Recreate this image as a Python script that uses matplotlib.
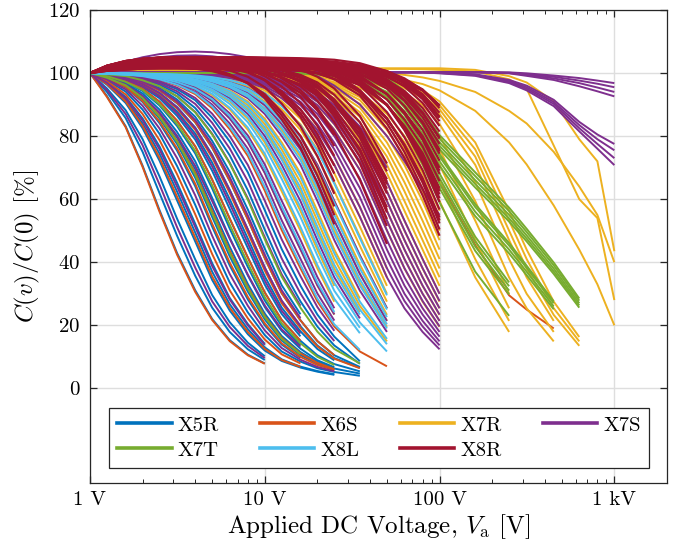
import matplotlib
matplotlib.use("Agg")
import matplotlib.pyplot as plt
from matplotlib.ticker import FixedLocator, LogLocator, NullFormatter

plt.rcParams.update({
    "font.family": "serif",
    "font.serif": ["cmr10"],
    "mathtext.fontset": "cm",
    "axes.formatter.use_mathtext": True,
    "axes.unicode_minus": False,
})

# applied DC bias steps [V]; each curve runs from 1 V up to its rated voltage
VOLTS = [1, 1.25, 1.6, 2, 2.5, 3.15, 4, 5, 6.3, 8, 10, 12.5, 16, 20, 25, 35,
         50, 63, 80, 100, 160, 250, 315, 450, 630, 800, 1000]

X5R = [
    [100, 92.7, 83.1, 70.6, 56.5, 42.9, 31.1, 22.0, 15.3, 10.7, 7.9],
    [100, 94.0, 85.7, 75.0, 61.9, 48.4, 35.7, 25.6, 17.9, 12.4, 9.0],
    [100, 95.1, 88.2, 79.0, 67.2, 53.8, 40.9, 29.6, 21.0, 14.5, 10.2],
    [100, 96.3, 90.5, 82.5, 72.2, 59.6, 46.6, 34.4, 24.7, 17.2, 12.0, 8.7, 6.6, 5.3, 4.3],
    [100, 97.1, 92.4, 85.6, 76.7, 65.2, 52.2, 39.7, 28.7, 20.4, 14.1],
    [100, 97.7, 94.1, 88.4, 80.7, 70.5, 58.2, 45.5, 33.6, 24.1, 16.9, 11.7, 8.5, 6.4, 5.2, 4.0],
    [100, 98.3, 95.4, 90.8, 84.1, 75.4, 64.1, 51.3, 39.0, 28.2, 20.0, 13.9, 9.7],
    [100, 98.9, 97.1, 94.3, 89.7, 83.2, 74.5, 63.4, 50.7, 38.5, 27.9, 19.8, 13.7],
    [100, 99.2, 97.8, 95.5, 92.0, 86.4, 78.9, 69.0, 56.9, 44.5, 32.9, 23.6, 16.5],
    [100, 99.6, 98.8, 97.4, 95.2, 91.6, 86.1, 78.5, 68.7, 56.7, 44.3, 32.7, 23.5],
    [100, 96.6, 91.4, 84.0, 74.4, 62.4, 49.4, 37.0, 26.7, 18.8, 13.0, 9.2, 6.9, 5.5, 4.5],
    [100, 98.4, 95.9, 91.8, 85.6, 77.5, 66.8, 54.4, 41.9, 30.7, 21.9, 15.2, 10.6, 7.8, 6.0],
    [100, 98.7, 96.7, 93.5, 88.4, 81.3, 72.0, 60.4, 47.8, 35.8, 25.8, 18.2, 12.6, 8.9, 6.7],
    [100, 99.3, 98.0, 96.1, 92.9, 87.8, 80.8, 71.6, 60.0, 47.5, 35.5, 25.6, 18.1, 12.5, 8.9],
    [100, 98.6, 96.3, 92.8, 87.2, 79.5, 69.5, 57.4, 44.9, 33.1, 23.7, 16.6, 11.5, 8.4, 6.3, 4.7],
    [100, 99.4, 98.3, 96.6, 93.7, 89.2, 82.7, 74.1, 63.0, 50.4, 38.3, 27.7, 19.7, 13.6, 9.6, 6.5],
    [100, 99.7, 99.1, 98.0, 96.3, 93.5, 88.9, 82.4, 73.9, 62.8, 50.3, 38.2, 27.6, 19.6, 13.6, 7.8],
    [100, 99.7, 99.3, 98.5, 97.1, 94.9, 91.4, 85.8, 78.3, 68.5, 56.5, 44.2, 32.6, 23.4, 16.4, 8.6],
    [100, 99.5, 98.5, 97.0, 94.5, 90.4, 84.4, 76.3, 65.8, 53.6, 41.3, 30.2, 21.6, 15.0, 10.5, 6.8],
    [100, 99.0, 97.5, 94.9, 90.9, 84.8, 76.7, 66.2, 53.8, 41.5, 30.4, 21.7, 15.1, 10.5, 7.7, 5.4],
]

X6S = [
    [100, 92.4, 82.8, 70.2, 56.0, 42.4, 30.6, 21.7, 15.0, 10.5, 7.8],
    [100, 96.5, 91.0, 83.2, 73.1, 60.8, 47.8, 35.5, 25.6, 17.9, 12.5, 9.0, 6.8],
    [100, 97.4, 93.2, 87.0, 78.7, 67.9, 55.2, 42.6, 31.1, 22.2, 15.5, 10.8, 7.9],
    [100, 98.4, 95.6, 91.1, 84.6, 76.1, 64.9, 52.2, 39.9, 29.0, 20.6, 14.3, 10.0, 7.4, 5.8],
    [100, 98.5, 96.0, 92.3, 86.4, 78.5, 68.4, 56.2, 43.7, 32.1, 22.9, 16.0, 11.1, 8.1, 6.1],
    [100, 99.0, 97.5, 95.0, 90.9, 84.9, 76.8, 66.2, 53.9, 41.5, 30.4, 21.7, 15.1],
    [100, 99.35, 98.2, 96.4, 93.4, 88.7, 82.0, 73.2, 62.0, 49.4, 37.4, 27.0, 19.2, 13.3, 9.4, 6.4],
    [100, 99.5, 98.5, 97.0, 94.5, 90.5, 84.4, 76.4, 65.9, 53.6, 41.3, 30.2, 21.6, 15.0, 10.5],
    [100, 99.8, 99.5, 98.9, 97.8, 96.1, 93.3, 88.8, 82.2, 73.7, 62.7, 50.2, 38.1, 27.6, 19.6, 11.7, 7.0],
    [100, 100, 100, 100, 100, 100, 100, 100, 100, 100, 100, 100, 100, 99.9, 99.8,
     97.5, 92.0, 85.0, 75.5, 65.5, 45.5, 29.5, 25.0, 19.0],
]

X7R = [
    [100, 99.8, 99.5, 99.1, 98.3, 96.9, 94.7, 91.2, 85.7, 78.2, 68.4, 56.4, 44.1, 32.6, 23.4],
    [100, 99.7, 99.5, 99.2, 98.6, 97.5, 95.8, 93.0, 88.5, 82.0, 73.5, 62.5, 50.0, 38.0, 27.5],
    [100, 99.8, 99.6, 99.3, 98.9, 98.1, 96.7, 94.5, 91.0, 85.5, 78.0, 68.2, 56.3, 44.0, 32.5],
    [100, 99.8, 99.7, 99.5, 99.2, 98.6, 97.5, 95.8, 93.0, 88.5, 82.0, 73.5, 62.5, 50.0, 38.0, 24.2],
    [100, 100, 99.8, 99.6, 99.3, 98.9, 98.1, 96.7, 94.5, 91.0, 85.5, 78.0, 68.2, 56.3, 44.0, 28.5],
    [100, 99.9, 99.8, 99.6, 99.3, 98.8, 97.8, 96.3, 93.8, 89.8, 83.8, 75.8, 65.4, 53.2, 41.0, 26.2, 14.9],
    [100, 100, 99.8, 99.7, 99.5, 99.2, 98.6, 97.5, 95.8, 93.0, 88.5, 82.0, 73.5, 62.5, 50.0, 33.5, 19.5],
    [100, 100, 99.85, 99.75, 99.55, 99.25, 98.75, 97.8, 96.25, 93.75, 89.75, 83.75, 75.75, 65.35, 53.15, 36.35, 21.4],
    [100, 100, 99.9, 99.8, 99.6, 99.3, 98.9, 98.1, 96.7, 94.5, 91.0, 85.5, 78.0, 68.2, 56.3, 39.2, 23.3],
    [100, 100, 99.95, 99.8, 99.65, 99.4, 99.05, 98.35, 97.1, 95.15, 92.0, 87.0, 80.0, 70.85, 59.4, 42.2, 25.4],
    [100, 100, 100, 99.8, 99.7, 99.5, 99.2, 98.6, 97.5, 95.8, 93.0, 88.5, 82.0, 73.5, 62.5, 45.2, 27.5],
    [100, 100, 100, 99.85, 99.75, 99.55, 99.25, 98.75, 97.8, 96.25, 93.75, 89.75, 83.75, 75.75, 65.35, 48.25, 30.0],
    [100, 100, 100, 99.9, 99.8, 99.6, 99.3, 98.9, 98.1, 96.7, 94.5, 91.0, 85.5, 78.0, 68.2, 51.3, 32.5],
    [100, 100, 100, 99.95, 99.8, 99.65, 99.4, 99.05, 98.35, 97.1, 95.15, 92.0, 87.0, 80.0, 70.85, 54.45, 35.25],
    [100, 100, 100, 100, 99.8, 99.7, 99.5, 99.2, 98.6, 97.5, 95.8, 93.0, 88.5, 82.0, 73.5, 57.6, 38.0],
    [100, 100, 100, 100, 100, 99.8, 99.7, 99.5, 99.2, 98.6, 97.5, 95.8, 93.0, 88.5, 82.0,
     69.3, 50.0, 38.0, 27.5, 19.5],
    [100, 100, 100, 100, 100, 99.85, 99.75, 99.55, 99.25, 98.75, 97.8, 96.25, 93.75, 89.75, 83.75,
     71.9, 53.2, 41.0, 30.0, 21.4],
    [100, 100, 100, 100, 100, 99.9, 99.8, 99.6, 99.3, 98.9, 98.1, 96.7, 94.5, 91.0, 85.5,
     74.4, 56.3, 44.0, 32.5, 23.3],
    [100, 100, 100, 100, 100, 99.95, 99.8, 99.65, 99.4, 99.05, 98.35, 97.1, 95.15, 92.0, 87.0,
     76.6, 59.4, 47.0, 35.25, 25.4],
    [100, 100, 100, 100, 100, 100, 99.8, 99.7, 99.5, 99.2, 98.6, 97.5, 95.8, 93.0, 88.5,
     78.8, 62.5, 50.0, 38.0, 27.5],
    [100, 100, 100, 100, 100, 100, 99.85, 99.75, 99.55, 99.25, 98.75, 97.8, 96.25, 93.75, 89.75,
     80.75, 65.35, 53.15, 41.0, 30.0],
    [100, 100, 100, 100, 100, 100, 99.9, 99.8, 99.6, 99.3, 98.9, 98.1, 96.7, 94.5, 91.0,
     82.7, 68.2, 56.3, 44.0, 32.5],
    [100, 100, 100, 100, 100, 100, 99.95, 99.8, 99.65, 99.4, 99.05, 98.35, 97.1, 95.15, 92.0,
     84.4, 70.85, 59.4, 47.0, 35.25],
    [100, 100, 100, 100, 100, 100, 100, 99.8, 99.7, 99.5, 99.2, 98.6, 97.5, 95.8, 93.0,
     86.1, 73.5, 62.5, 50.0, 38.0],
    [100, 100, 100, 100, 100, 100, 100, 99.85, 99.75, 99.55, 99.25, 98.75, 97.8, 96.25, 93.75,
     87.55, 75.75, 65.35, 53.15, 41.0],
    [100, 100, 100, 100, 100, 100, 100, 99.9, 99.8, 99.6, 99.3, 98.9, 98.1, 96.7, 94.5,
     89.0, 78.0, 68.2, 56.3, 44.0],
    [100, 100, 100, 100, 100, 100, 100, 99.95, 99.8, 99.65, 99.4, 99.05, 98.35, 97.1, 95.15,
     90.2, 80.0, 70.85, 59.4, 47.0],
    [100, 100, 100, 100, 100, 100, 100, 100, 99.8, 99.7, 99.5, 99.2, 98.6, 97.5, 95.8,
     91.4, 82.0, 73.5, 62.5, 50.0],
    [100, 100, 100, 100, 100, 100, 100, 100, 99.85, 99.75, 99.55, 99.25, 98.75, 97.8, 96.25,
     92.35, 83.75, 75.75, 65.35, 53.15],
    [100, 100, 100, 100, 100, 100, 100, 100, 99.9, 99.8, 99.6, 99.3, 98.9, 98.1, 96.7,
     93.3, 85.5, 78.0, 68.2, 56.3],
    [100, 100, 100, 100, 100, 100, 100, 100, 100, 99.8, 99.7, 99.4, 99.1, 98.4, 97.1,
     94.0, 87.0, 80.0, 70.9, 59.4, 35.2, 17.9],
    [100, 100, 100, 100, 100, 100, 100, 100, 100, 99.9, 99.8, 99.6, 99.3, 98.8, 97.8,
     95.4, 89.8, 83.8, 75.8, 65.4, 41.0, 21.4],
    [100, 100, 100, 100, 100, 100, 100, 100, 100, 100, 99.8, 99.7, 99.4, 99.1, 98.4,
     96.4, 92.0, 87.0, 80.0, 70.9, 47.0, 25.4],
    [100, 100, 100, 100, 100, 100, 100, 100, 100, 100, 100, 99.8, 99.6, 99.3, 98.8,
     97.2, 93.8, 89.8, 83.8, 75.8, 53.2, 30.0],
    [100, 100, 100, 100, 100, 100, 100, 100, 100, 100, 100, 100, 99.7, 99.4, 99.1,
     97.9, 95.2, 92.0, 87.0, 80.0, 59.4, 35.2, 25.4, 14.9],
    [100, 100, 100, 100, 100, 100, 100, 100, 100, 100, 100, 100, 100, 99.6, 99.3,
     98.5, 96.3, 93.8, 89.8, 83.8, 65.4, 41.0, 30.0, 17.9],
    [100, 100, 100, 100, 100, 100, 100, 100, 100, 100, 100, 100, 100, 100, 99.4,
     98.8, 97.1, 95.2, 92.0, 87.0, 70.9, 47.0, 35.2, 21.4],
    [100, 100, 100, 100, 100, 100, 100, 100, 100, 100, 100, 100, 100, 100, 99.5,
     99.0, 97.5, 95.8, 93.0, 88.5, 73.5, 50.0, 38.0, 23.3, 13.5],
    [100, 100, 100, 100, 100, 100, 100, 100, 100, 100, 100, 100, 100, 100, 100,
     99.1, 97.8, 96.3, 93.8, 89.8, 75.8, 53.2, 41.0, 25.4, 14.9],
    [100, 100, 100, 100, 100, 100, 100, 100, 100, 100, 100, 100, 100, 100, 99.6,
     99.2, 98.1, 96.7, 94.5, 91.0, 78.0, 56.3, 44.0, 27.5, 16.3],
    [100, 100.3, 100.6, 100.8, 101.0, 101.2, 101.3, 101.4, 101.5, 101.5, 101.5, 101.5, 101.5, 101.5,
     101.5, 101.5, 101.5, 101.5, 101.5, 101.5, 101.0, 99.0, 97.0, 91.0, 79.0, 72.0, 43.5],
    [100, 100.2, 100.4, 100.6, 100.8, 101.0, 101.1, 101.2, 101.3, 101.3, 101.3, 101.3, 101.3, 101.3,
     101.3, 101.3, 101.3, 101.3, 101.2, 101.0, 100.5, 98.0, 95.0, 77.0, 60.0, 54.0, 28.0],
    [100, 100.2, 100.4, 100.5, 100.6, 100.7, 100.8, 100.8, 100.8, 100.8, 100.8, 100.8, 100.8, 100.7,
     100.6, 100.4, 100.0, 99.4, 98.6, 97.5, 94.0, 88.0, 84.0, 75.0, 64.0, 55.0, 40.0],
    [100, 100.1, 100.2, 100.3, 100.4, 100.5, 100.5, 100.5, 100.5, 100.5, 100.4, 100.3, 100.2, 100.0,
     99.8, 99.4, 98.6, 97.8, 96.5, 94.5, 88.0, 78.0, 71.0, 58.0, 44.0, 33.0, 20.0],
]

X7S = [
    [100, 94.6, 87.0, 77.1, 64.6, 51.1, 38.3, 27.6, 19.5, 13.5, 9.6],
    [100, 96.9, 92.0, 85.0, 75.8, 64.0, 51.2, 38.8, 28.2, 20.0, 13.8],
    [100, 98.0, 94.8, 89.6, 82.4, 73.0, 61.2, 48.4, 36.3, 26.2, 18.4, 12.8, 9.1, 6.8, 5.4],
    [100, 98.6, 96.35, 92.7, 87.45, 80.1, 70.55, 59.4, 47.45, 36.1, 26.3, 18.7, 13.25],
    [100, 99.2, 97.9, 95.8, 92.5, 87.2, 79.9, 70.4, 58.6, 46.0, 34.2, 24.6, 17.4],
    [100, 99.35, 98.25, 96.5, 93.65, 89.1, 82.5, 73.85, 62.8, 50.4, 38.3, 27.85, 19.85],
    [100, 99.5, 98.6, 97.2, 94.8, 91.0, 85.1, 77.3, 67.0, 54.8, 42.4, 31.1, 22.3],
    [100, 99.6, 98.9, 97.7, 95.75, 92.6, 87.65, 80.75, 71.55, 60.25, 47.9, 36.15, 26.2],
    [100, 99.7, 99.2, 98.2, 96.7, 94.2, 90.2, 84.2, 76.1, 65.7, 53.4, 41.2, 30.1, 21.5, 15.0],
    [100, 99.75, 99.35, 98.6, 97.35, 95.35, 92.1, 87.1, 80.05, 70.85, 59.5, 47.25, 35.6, 25.8, 18.25],
    [100, 99.8, 99.5, 99.0, 98.0, 96.5, 94.0, 90.0, 84.0, 76.0, 65.6, 53.3, 41.1, 30.1, 21.5],
    [100, 99.85, 99.55, 99.1, 98.3, 96.9, 94.7, 91.1, 85.6, 78.1, 68.3, 56.4, 44.1, 32.7, 23.45],
    [100, 99.9, 99.6, 99.2, 98.6, 97.3, 95.4, 92.2, 87.2, 80.2, 71.0, 59.5, 47.1, 35.3, 25.4],
    [100, 99.8, 99.7, 99.4, 99.1, 98.4, 97.1, 95.2, 92.0, 87.0, 80.0, 70.9, 59.4, 47.0, 35.2, 22.2],
    [100, 100, 99.8, 99.7, 99.4, 99.1, 98.4, 97.1, 95.2, 92.0, 87.0, 80.0, 70.9, 59.4, 47.0, 31.0, 17.9],
    [100, 100, 99.9, 99.7, 99.6, 99.3, 98.8, 97.8, 96.3, 93.8, 89.8, 83.8, 75.8, 65.4, 53.2, 36.3, 21.4],
    [100, 100, 100, 99.8, 99.7, 99.4, 99.1, 98.4, 97.1, 95.2, 92.0, 87.0, 80.0, 70.9, 59.4, 42.2, 25.4],
    [100, 100, 100, 100, 99.8, 99.7, 99.4, 99.1, 98.4, 97.1, 95.2, 92.0, 87.0, 80.0, 70.9,
     54.4, 35.2, 25.4, 17.9, 12.4],
    [100, 100, 100, 100, 99.85, 99.75, 99.5, 99.2, 98.6, 97.45, 95.75, 92.9, 88.4, 81.9, 73.35,
     57.5, 38.1, 27.7, 19.65, 13.65],
    [100, 100, 100, 100, 99.9, 99.8, 99.6, 99.3, 98.8, 97.8, 96.3, 93.8, 89.8, 83.8, 75.8,
     60.6, 41.0, 30.0, 21.4, 14.9],
    [100, 100, 100, 100, 99.95, 99.8, 99.65, 99.35, 98.95, 98.1, 96.7, 94.5, 90.9, 85.4, 77.9,
     63.55, 44.0, 32.6, 23.4, 16.4],
    [100, 100, 100, 100, 100, 99.8, 99.7, 99.4, 99.1, 98.4, 97.1, 95.2, 92.0, 87.0, 80.0,
     66.5, 47.0, 35.2, 25.4, 17.9],
    [100, 100, 100, 100, 100, 99.85, 99.75, 99.5, 99.2, 98.6, 97.45, 95.75, 92.9, 88.4, 81.9,
     69.25, 50.1, 38.1, 27.7, 19.65],
    [100, 100, 100, 100, 100, 99.9, 99.8, 99.6, 99.3, 98.8, 97.8, 96.3, 93.8, 89.8, 83.8,
     72.0, 53.2, 41.0, 30.0, 21.4],
    [100, 100, 100, 100, 100, 99.95, 99.8, 99.65, 99.35, 98.95, 98.1, 96.7, 94.5, 90.9, 85.4,
     73.5, 56.3, 44.0, 32.6, 23.4],
    [100, 100, 100, 100, 100, 100, 99.8, 99.7, 99.4, 99.1, 98.4, 97.1, 95.2, 92.0, 87.0,
     75.0, 59.4, 47.0, 35.2, 25.4],
    [100, 100, 100, 100, 100, 100, 99.85, 99.75, 99.5, 99.2, 98.6, 97.45, 95.75, 92.9, 88.4,
     77.8, 62.4, 50.1, 38.1, 27.7],
    [100, 100, 100, 100, 100, 100, 99.9, 99.8, 99.6, 99.3, 98.8, 97.8, 96.3, 93.8, 89.8,
     80.6, 65.4, 53.2, 41.0, 30.0],
    [100, 101.8, 103.6, 105.0, 106.0, 106.6, 106.8, 106.6, 106.0, 105.0, 104.0, 102.8, 101.2, 99.0,
     96.0, 90.0, 80.0, 72.0, 63.0, 55.0],
    [100, 101.5, 103.0, 104.2, 105.0, 105.5, 105.6, 105.3, 104.6, 103.6, 102.4, 100.8, 98.6, 95.5,
     91.5, 83.0, 70.0],
    [100, 100.1, 100.1, 100.2, 100.2, 100.2, 100.2, 100.2, 100.3, 100.3, 100.3, 100.3, 100.3, 100.3,
     100.3, 100.3, 100.3, 100.3, 100.3, 100.3, 100.3, 100.2, 99.9, 99.2, 98.4, 97.6, 96.8],
    [100, 100.1, 100.1, 100.2, 100.2, 100.2, 100.2, 100.2, 100.3, 100.3, 100.3, 100.3, 100.3, 100.3,
     100.3, 100.3, 100.3, 100.3, 100.3, 100.3, 100.3, 100.1, 99.6, 98.8, 97.6, 96.6, 95.5],
    [100, 100.1, 100.1, 100.1, 100.2, 100.2, 100.2, 100.2, 100.2, 100.2, 100.2, 100.2, 100.2, 100.2,
     100.2, 100.2, 100.2, 100.2, 100.2, 100.2, 100.2, 100.0, 99.4, 98.3, 96.8, 95.4, 94.0],
    [100, 100.1, 100.1, 100.1, 100.2, 100.2, 100.2, 100.2, 100.2, 100.2, 100.2, 100.2, 100.2, 100.2,
     100.2, 100.2, 100.2, 100.2, 100.2, 100.2, 100.2, 99.9, 99.1, 97.8, 95.8, 94.2, 92.6],
    [100, 100.1, 100.1, 100.2, 100.2, 100.2, 100.2, 100.2, 100.3, 100.3, 100.3, 100.3, 100.3, 100.3,
     100.3, 100.3, 100.3, 100.3, 100.3, 100.2, 99.6, 97.8, 96.0, 91.5, 84.5, 80.5, 77.5],
    [100, 100.1, 100.1, 100.2, 100.2, 100.2, 100.2, 100.2, 100.3, 100.3, 100.3, 100.3, 100.3, 100.3,
     100.3, 100.3, 100.3, 100.3, 100.3, 100.1, 99.4, 97.4, 95.5, 90.8, 83.5, 79.0, 75.5],
    [100, 100.1, 100.1, 100.1, 100.2, 100.2, 100.2, 100.2, 100.2, 100.2, 100.2, 100.2, 100.2, 100.2,
     100.2, 100.2, 100.2, 100.2, 100.2, 100.0, 99.3, 97.1, 95.0, 90.2, 82.5, 77.5, 73.0],
    [100, 100.1, 100.1, 100.1, 100.2, 100.2, 100.2, 100.2, 100.2, 100.2, 100.2, 100.2, 100.2, 100.2,
     100.2, 100.2, 100.2, 100.2, 100.2, 99.9, 99.1, 96.8, 94.5, 89.5, 81.5, 76.0, 70.8],
]

X7T = [
    [100, 98.5, 96.1, 92.1, 86.1, 78.2, 67.7, 55.5, 43.0, 31.6, 22.6, 15.7, 10.9],
    [100, 99.0, 97.2, 94.6, 90.1, 83.8, 75.3, 64.4, 51.9, 39.7, 28.9, 20.6, 14.3, 10.0, 7.4],
    [100, 99.6, 99.0, 97.7, 95.8, 92.6, 87.5, 80.5, 71.3, 59.8, 47.3, 35.4, 25.6, 18.0, 12.5, 7.9],
    [100, 100, 100, 100, 100, 100, 100, 100, 100, 100, 100, 100, 100, 99.8, 99.5,
     97.5, 92.5, 85.5, 76.0, 65.0, 45.0, 31.0],
    [100, 100, 100, 100, 100, 100, 100, 100, 100, 100, 100, 100, 100, 99.8, 99.6,
     97.9, 93.3, 86.7, 77.5, 66.6, 46.6, 32.4],
    [100, 100, 100, 100, 100, 100, 100, 100, 100, 100, 100, 100, 100, 99.9, 99.7,
     98.2, 94.0, 87.8, 78.9, 68.1, 48.1, 33.6],
    [100, 100, 100, 100, 100, 100, 100, 100, 100, 100, 100, 100, 100, 99.7, 99.4,
     97.1, 91.7, 84.3, 74.6, 63.5, 43.6, 29.8],
    [100, 100, 100, 100, 100, 100, 100, 100, 100, 100, 100, 100, 99.8, 99.5, 99.0,
     96.5, 90.0, 82.0, 71.0, 59.0, 37.0, 23.0],
    [100, 100, 100, 100, 100, 100, 100, 100, 100, 100, 100, 100, 100, 100, 99.6,
     98.8, 96.0, 90.0, 82.0, 72.0, 56.0, 44.0, 37.0, 26.0],
    [100, 100, 100, 100, 100, 100, 100, 100, 100, 100, 100, 100, 100, 100, 99.7,
     99.0, 96.6, 91.0, 83.3, 73.5, 57.5, 45.3, 38.2, 27.0],
    [100, 100, 100, 100, 100, 100, 100, 100, 100, 100, 100, 100, 100, 100, 99.5,
     98.6, 95.4, 89.0, 80.8, 70.6, 54.6, 42.8, 35.9, 25.1],
    [100, 100, 100, 100, 100, 100, 100, 100, 100, 100, 100, 100, 100, 100, 99.7,
     99.1, 96.9, 91.6, 84.0, 74.3, 58.4, 46.1, 38.9, 27.6],
    [100, 100, 100, 100, 100, 100, 100, 100, 100, 100, 100, 100, 100, 100, 100,
     99.5, 98.0, 93.0, 86.0, 78.0, 66.0, 55.0, 48.5, 38.0, 27.0],
    [100, 100, 100, 100, 100, 100, 100, 100, 100, 100, 100, 100, 100, 100, 100,
     99.6, 98.3, 93.7, 87.0, 79.2, 67.3, 56.2, 49.6, 39.0, 27.8],
    [100, 100, 100, 100, 100, 100, 100, 100, 100, 100, 100, 100, 100, 100, 100,
     99.4, 97.7, 92.4, 85.0, 76.9, 64.8, 53.9, 47.5, 37.1, 26.3],
    [100, 100, 100, 100, 100, 100, 100, 100, 100, 100, 100, 100, 100, 100, 100,
     99.6, 98.5, 94.3, 87.9, 80.3, 68.5, 57.3, 50.6, 39.9, 28.5],
    [100, 100, 100, 100, 100, 100, 100, 100, 100, 100, 100, 100, 100, 100, 100,
     99.3, 97.4, 91.8, 84.1, 75.8, 63.7, 52.9, 46.6, 36.3, 25.6],
]

X8L = [
    [100, 99.8, 99.5, 99.0, 98.0, 96.3, 93.7, 89.4, 83.0, 74.7, 63.9, 51.4, 39.2, 28.5, 20.3, 12.2],
    [100, 99.8, 99.6, 99.2, 98.4, 97.1, 95.0, 91.7, 86.4, 79.2, 69.6, 57.7, 45.3, 33.6, 24.2],
    [100, 99.7, 99.5, 99.2, 98.7, 97.7, 96.0, 93.4, 89.0, 82.7, 74.4, 63.6, 51.2, 39.1, 28.4, 17.5],
    [100, 99.75, 99.55, 99.3, 98.85, 97.95, 96.45, 94.1, 90.2, 84.4, 76.6, 66.45, 54.35, 42.15, 30.95, 19.2],
    [100, 99.8, 99.6, 99.4, 99.0, 98.2, 96.9, 94.8, 91.4, 86.1, 78.8, 69.3, 57.5, 45.2, 33.5, 20.9, 11.7],
    [100, 99.8, 99.7, 99.5, 99.2, 98.5, 97.3, 95.5, 92.6, 87.9, 81.2, 72.5, 61.3, 48.8, 36.8, 23.4],
    [100, 99.8, 99.7, 99.5, 99.2, 98.7, 97.7, 96.0, 93.4, 89.1, 82.8, 74.5, 63.7, 51.3, 39.2, 25.0, 14.0],
    [100, 99.8, 99.7, 99.6, 99.3, 98.9, 98.0, 96.6, 94.2, 90.5, 84.8, 77.1, 67.1, 55.0, 42.8, 27.5, 15.7],
    [100, 100, 99.8, 99.7, 99.5, 99.2, 98.5, 97.3, 95.5, 92.5, 87.8, 81.1, 72.4, 61.2, 48.8, 32.6, 19.0],
    [100, 99.9, 99.8, 99.7, 99.5, 99.2, 98.7, 97.6, 96.0, 93.2, 88.8, 82.7, 74.4, 63.6, 51.3, 34.6, 20.3],
    [100, 100, 99.9, 99.7, 99.6, 99.3, 98.9, 98.0, 96.5, 94.2, 90.5, 84.8, 77.1, 67.1, 55.0, 38.0, 22.6],
    [100, 99.9, 99.85, 99.75, 99.65, 99.4, 99.0, 98.3, 97.0, 95.0, 91.8, 86.7, 79.6, 70.3, 58.8, 41.6, 25.0],
    [100, 100, 99.9, 99.8, 99.7, 99.55, 99.25, 98.7, 97.75, 96.2, 93.6, 89.5, 83.4, 75.3, 64.9, 47.6, 29.5],
]

X8R = [
    [100, 101.7, 102.8, 103.3, 103.4, 103.2, 102.5, 101.4, 99.6, 96.7, 92.0, 85.3, 76.4, 65.0, 52.0],
    [100, 101.4, 102.3, 102.7, 102.7, 102.5, 102.0, 101.0, 99.4, 96.8, 92.7, 86.5, 78.2, 67.5, 54.9],
    [100, 101.0, 101.7, 102.0, 102.0, 101.8, 101.4, 100.6, 99.1, 96.9, 93.3, 87.6, 80.0, 69.9, 57.7],
    [100, 101.7, 102.7, 103.2, 103.3, 103.2, 102.8, 102.1, 100.8, 98.8, 95.5, 90.3, 83.1, 73.6, 61.7],
    [100, 102.3, 103.6, 104.3, 104.5, 104.5, 104.2, 103.5, 102.4, 100.6, 97.7, 92.9, 86.1, 77.2, 65.6],
    [100, 102.0, 103.1, 103.7, 103.8, 103.8, 103.5, 103.0, 102.0, 100.4, 97.8, 93.6, 87.3, 79.0, 68.1],
    [100, 101.6, 102.6, 103.0, 103.1, 103.1, 102.8, 102.4, 101.5, 100.1, 97.8, 94.2, 88.5, 80.7, 70.6],
    [100, 101.8, 103.0, 103.5, 103.7, 103.7, 103.4, 103.1, 102.3, 101.0, 99.0, 95.7, 90.5, 83.2, 73.7],
    [100, 102.0, 103.4, 103.9, 104.2, 104.2, 104.0, 103.7, 103.0, 101.9, 100.1, 97.2, 92.5, 85.7, 76.8],
    [100, 101.4, 102.3, 102.6, 102.7, 102.7, 102.6, 102.3, 101.9, 101.0, 99.6, 97.3, 93.7, 88.1, 80.3],
    [100, 101.8, 103.0, 103.5, 103.7, 103.7, 103.6, 103.3, 102.9, 102.0, 100.6, 98.3, 94.6, 88.9, 81.1, 66.1, 45.8],
    [100, 101.4, 102.3, 102.7, 102.8, 102.8, 102.7, 102.5, 102.2, 101.6, 100.4, 98.7, 95.8, 91.2, 84.5, 71.4, 51.5],
    [100, 101.9, 103.1, 103.6, 103.8, 103.8, 103.7, 103.5, 103.2, 102.7, 101.6, 99.9, 97.1, 92.7, 86.2, 73.5, 53.7],
    [100, 102.3, 103.8, 104.5, 104.8, 104.8, 104.7, 104.5, 104.2, 103.7, 102.7, 101.1, 98.4, 94.2, 87.9, 75.5, 55.8],
    [100, 101.6, 102.7, 103.2, 103.4, 103.4, 103.2, 103.1, 102.8, 102.3, 101.4, 99.9, 97.4, 93.5, 87.6, 75.7, 56.6],
    [100, 100.9, 101.5, 101.8, 101.9, 101.9, 101.7, 101.6, 101.3, 100.9, 100.1, 98.6, 96.4, 92.8, 87.2, 75.9, 57.4],
    [100, 101.4, 102.3, 102.7, 102.9, 102.9, 102.8, 102.6, 102.4, 102.0, 101.2, 99.8, 97.7, 94.3, 88.9, 77.7, 59.6],
    [100, 101.8, 103.0, 103.6, 103.9, 103.9, 103.8, 103.6, 103.4, 103.0, 102.3, 101.0, 99.0, 95.7, 90.5, 79.5, 61.8],
    [100, 101.7, 102.8, 103.4, 103.7, 103.7, 103.6, 103.4, 103.2, 102.9, 102.2, 101.0, 99.1, 96.0, 91.1, 80.6, 63.3],
    [100, 101.6, 102.6, 103.2, 103.4, 103.5, 103.3, 103.2, 103.0, 102.7, 102.1, 100.9, 99.2, 96.3, 91.6, 81.6, 64.7],
    [100, 101.2, 101.9, 102.3, 102.5, 102.5, 102.3, 102.2, 102.0, 101.7, 101.2, 100.1, 98.5, 95.8, 91.4, 82.0, 65.5],
    [100, 100.7, 101.1, 101.4, 101.5, 101.5, 101.3, 101.2, 101.0, 100.7, 100.2, 99.3, 97.7, 95.2, 91.1, 82.4, 66.3],
    [100, 101.4, 102.3, 102.8, 103.0, 103.0, 102.9, 102.7, 102.6, 102.3, 101.8, 100.9, 99.4, 97.0, 93.1, 84.4, 68.8],
    [100, 102.0, 103.4, 104.1, 104.4, 104.5, 104.4, 104.2, 104.1, 103.8, 103.4, 102.5, 101.1, 98.8, 95.1, 86.4, 71.3],
    [100, 101.4, 102.3, 102.7, 102.9, 103.0, 102.9, 102.9, 102.8, 102.6, 102.4, 102.0, 101.3, 100.0,
     98.0, 92.9, 82.4, 73.0, 61.2, 48.4],
    [100, 101.7, 102.9, 103.4, 103.7, 103.8, 103.7, 103.7, 103.6, 103.4, 103.2, 102.9, 102.2, 101.0,
     99.1, 93.8, 84.1, 74.9, 63.3, 50.4],
    [100, 102.0, 103.4, 104.1, 104.4, 104.5, 104.5, 104.4, 104.3, 104.2, 104.0, 103.7, 103.0, 101.9,
     100.1, 94.6, 85.7, 76.8, 65.3, 52.3],
    [100, 101.5, 102.5, 103.0, 103.2, 103.3, 103.3, 103.2, 103.1, 103.0, 102.8, 102.5, 101.9, 100.9,
     99.2, 94.4, 85.6, 77.1, 66.0, 53.3],
    [100, 100.9, 101.5, 101.8, 101.9, 102.0, 102.0, 101.9, 101.8, 101.7, 101.5, 101.2, 100.7, 99.8,
     98.2, 94.2, 85.4, 77.3, 66.7, 54.2],
    [100, 101.6, 102.7, 103.2, 103.4, 103.5, 103.5, 103.5, 103.3, 103.2, 103.1, 102.8, 102.3, 101.4,
     99.9, 96.1, 87.6, 79.6, 69.2, 56.7],
    [100, 102.3, 103.8, 104.5, 104.9, 105.0, 105.0, 105.0, 104.8, 104.7, 104.6, 104.3, 103.8, 103.0,
     101.5, 97.9, 89.8, 81.9, 71.6, 59.1],
    [100, 102.0, 103.2, 103.9, 104.2, 104.3, 104.3, 104.3, 104.1, 104.0, 103.9, 103.6, 103.2, 102.4,
     101.0, 97.6, 89.9, 82.4, 72.5, 60.3],
    [100, 101.6, 102.6, 103.2, 103.4, 103.5, 103.5, 103.5, 103.4, 103.3, 103.1, 102.9, 102.5, 101.8,
     100.5, 97.3, 90.0, 82.8, 73.3, 61.5],
    [100, 101.2, 101.9, 102.3, 102.5, 102.5, 102.5, 102.5, 102.4, 102.3, 102.2, 102.0, 101.6, 101.0,
     99.8, 96.8, 89.9, 83.0, 74.0, 62.5],
    [100, 100.7, 101.1, 101.4, 101.5, 101.5, 101.5, 101.5, 101.4, 101.3, 101.2, 101.0, 100.7, 100.1,
     99.0, 96.2, 89.8, 83.2, 74.6, 63.4],
    [100, 101.3, 102.1, 102.5, 102.7, 102.8, 102.8, 102.8, 102.7, 102.6, 102.5, 102.3, 102.0, 101.4,
     100.4, 97.7, 91.6, 85.2, 76.7, 65.7],
    [100, 101.8, 103.0, 103.6, 103.9, 104.0, 104.0, 104.0, 104.0, 103.9, 103.7, 103.5, 103.2, 102.7,
     101.7, 99.2, 93.3, 87.1, 78.8, 68.0],
    [100, 101.5, 102.5, 103.0, 103.2, 103.3, 103.3, 103.3, 103.3, 103.2, 103.0, 102.8, 102.5, 102.1,
     101.2, 98.8, 93.3, 87.4, 79.4, 69.0],
    [100, 101.1, 101.9, 102.3, 102.4, 102.5, 102.5, 102.5, 102.5, 102.4, 102.3, 102.1, 101.8, 101.4,
     100.6, 98.3, 93.3, 87.6, 80.0, 69.9],
    [100, 101.7, 102.9, 103.4, 103.7, 103.8, 103.8, 103.8, 103.8, 103.7, 103.6, 103.4, 103.1, 102.7,
     102.0, 99.8, 95.0, 89.5, 82.0, 72.2],
    [100, 102.3, 103.8, 104.5, 104.9, 105.0, 105.0, 105.0, 105.0, 105.0, 104.8, 104.6, 104.4, 104.0,
     103.3, 101.3, 96.6, 91.4, 84.0, 74.4],
    [100, 101.9, 103.1, 103.6, 103.9, 104.0, 104.0, 104.0, 104.0, 104.0, 103.8, 103.7, 103.5, 103.1,
     102.5, 100.6, 96.2, 91.3, 84.3, 75.1],
    [100, 101.4, 102.3, 102.7, 102.9, 103.0, 103.0, 103.0, 103.0, 103.0, 102.8, 102.7, 102.5, 102.2,
     101.6, 99.8, 95.8, 91.2, 84.5, 75.7],
    [100, 101.7, 102.9, 103.4, 103.7, 103.8, 103.8, 103.8, 103.8, 103.8, 103.6, 103.5, 103.3, 103.0,
     102.4, 100.7, 96.9, 92.5, 86.0, 77.5],
    [100, 102.0, 103.4, 104.1, 104.4, 104.5, 104.5, 104.5, 104.5, 104.5, 104.3, 104.2, 104.0, 103.7,
     103.2, 101.6, 98.0, 93.8, 87.5, 79.2],
    [100, 101.5, 102.5, 103.0, 103.2, 103.3, 103.3, 103.3, 103.3, 103.3, 103.1, 103.0, 102.8, 102.5,
     102.1, 100.6, 97.2, 93.3, 87.4, 79.4],
    [100, 100.9, 101.5, 101.8, 101.9, 102.0, 102.0, 102.0, 102.0, 102.0, 101.8, 101.7, 101.6, 101.3,
     100.9, 99.6, 96.4, 92.8, 87.2, 79.6],
    [100, 101.4, 102.3, 102.7, 102.9, 103.0, 103.0, 103.0, 103.0, 103.0, 102.9, 102.8, 102.6, 102.4,
     102.0, 100.7, 97.7, 94.3, 88.9, 81.4],
    [100, 101.8, 103.0, 103.6, 103.9, 104.0, 104.0, 104.0, 104.0, 104.0, 103.9, 103.8, 103.6, 103.4,
     103.0, 101.8, 99.0, 95.7, 90.5, 83.2],
    [100, 102.1, 103.4, 104.1, 104.4, 104.5, 104.5, 104.5, 104.5, 104.5, 104.4, 104.3, 104.2, 104.0,
     103.6, 102.5, 99.8, 96.7, 91.7, 84.7],
    [100, 102.3, 103.8, 104.5, 104.9, 105.0, 105.0, 105.0, 105.0, 105.0, 104.9, 104.8, 104.7, 104.5,
     104.2, 103.1, 100.6, 97.7, 92.9, 86.1],
    [100, 101.7, 102.9, 103.4, 103.7, 103.8, 103.8, 103.8, 103.8, 103.8, 103.7, 103.6, 103.5, 103.3,
     103.0, 102.0, 99.7, 96.9, 92.5, 86.0],
    [100, 101.1, 101.9, 102.3, 102.4, 102.5, 102.5, 102.5, 102.5, 102.5, 102.4, 102.3, 102.2, 102.0,
     101.7, 100.9, 98.7, 96.1, 92.0, 85.8],
    [100, 101.5, 102.5, 103.0, 103.2, 103.3, 103.3, 103.3, 103.3, 103.3, 103.2, 103.1, 103.0, 102.8,
     102.5, 101.7, 99.7, 97.2, 93.3, 87.4],
    [100, 101.8, 103.0, 103.6, 103.9, 104.0, 104.0, 104.0, 104.0, 104.0, 104.0, 103.8, 103.7, 103.6,
     103.3, 102.5, 100.6, 98.3, 94.6, 88.9],
    [100, 101.4, 102.3, 102.7, 102.9, 103.0, 103.0, 103.0, 103.0, 103.0, 103.0, 102.9, 102.8, 102.6,
     102.4, 101.8, 100.0, 98.0, 94.8, 89.6],
    [100, 101.1, 101.7, 102.1, 102.2, 102.3, 102.3, 102.3, 102.3, 102.3, 102.3, 102.2, 102.1, 101.9,
     101.7, 101.2, 99.5, 97.6, 94.6, 89.7],
    [100, 100.7, 101.1, 101.4, 101.5, 101.5, 101.5, 101.5, 101.5, 101.5, 101.5, 101.4, 101.3, 101.2,
     101.0, 100.5, 99.0, 97.2, 94.4, 89.8],
]

DIELECTRICS = ["X5R", "X6S", "X7R", "X7S", "X7T", "X8L", "X8R"]
CURVES = [X5R, X6S, X7R, X7S, X7T, X8L, X8R]
COLORS = ["#0072BD", "#D95319", "#EDB120", "#7E2F8E", "#77AC30", "#4DBEEE", "#A2142F"]

fig = plt.figure(figsize=(6.89, 5.52), dpi=100)
ax = fig.add_axes([0.1306, 0.125, 0.8374, 0.857])

handles = {}
for name, rows, color in zip(DIELECTRICS, CURVES, COLORS):
    lw = 1.6 if name == "X8R" else 1.4
    for row in rows:
        ax.plot(VOLTS[:len(row)], row, color=color, lw=lw, solid_capstyle="butt")
    handles[name], = ax.plot([], [], color=color, lw=2.6, label=name)

ax.set_xscale("log")
ax.set_xlim(1, 2000)
ax.set_ylim(-30, 120)
ax.xaxis.set_major_locator(FixedLocator([1, 10, 100, 1000]))
ax.set_xticklabels(["1 V", "10 V", "100 V", "1 kV"])
ax.xaxis.set_minor_locator(LogLocator(base=10, subs=range(2, 10)))
ax.xaxis.set_minor_formatter(NullFormatter())
ax.set_yticks([0, 20, 40, 60, 80, 100, 120])

ax.grid(True, which="major", color="#dedede", lw=1.0)
ax.set_axisbelow(True)
for sp in ax.spines.values():
    sp.set_color("#262626")
    sp.set_linewidth(0.9)
ax.tick_params(which="both", direction="in", top=True, right=True, colors="#262626",
               labelcolor="black", labelsize=15)
ax.tick_params(which="major", length=5, width=0.9)
ax.tick_params(which="minor", length=3, width=0.7)
ax.tick_params(axis="y", pad=7)
ax.tick_params(axis="x", pad=6)

ax.set_xlabel(r"Applied DC Voltage, $V_\mathrm{a}$ [V]", fontsize=18, labelpad=2)
ax.set_ylabel(r"$C(v)/C(0)$ [%]", fontsize=18, labelpad=4)

# legend fills column by column, so order the entries to read across in rows
order = ["X5R", "X7T", "X6S", "X8L", "X7R", "X8R", "X7S"]
leg = ax.legend(handles=[handles[k] for k in order], ncol=4, loc="lower left",
                bbox_to_anchor=(0.033, 0.032, 0.936, 0.127), mode="expand",
                borderaxespad=0, fontsize=15, handlelength=2.6, handletextpad=0.3,
                labelspacing=0.3, borderpad=0.4, columnspacing=1.0, fancybox=False,
                framealpha=1, edgecolor="#262626")
leg.get_frame().set_linewidth(0.9)

fig.savefig("out.png", dpi=100)
